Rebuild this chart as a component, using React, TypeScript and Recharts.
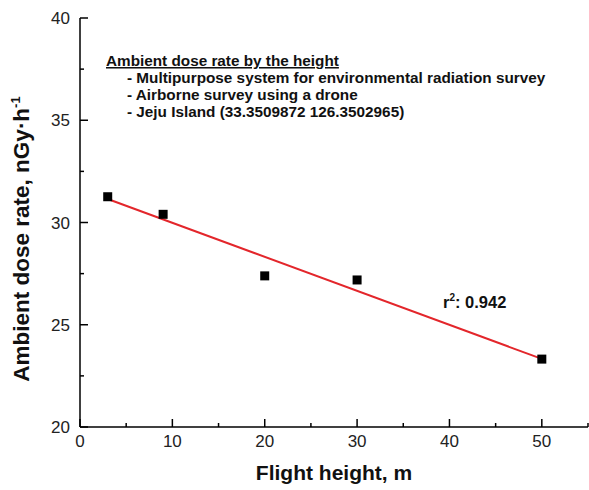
import React from 'react';
import {
  ScatterChart,
  Scatter,
  XAxis,
  YAxis,
  Customized
} from 'recharts';

// measured points: flight height (m) vs ambient dose rate (nGy/h)
const heights = [3, 9, 20, 30, 50];
const doseRates = [31.26, 30.4, 27.39, 27.19, 23.32];

// linear fit end points
const fitHeights = [3, 50];
const fitRates = [31.15, 23.33];

const xTicks = [0, 5, 10, 15, 20, 25, 30, 35, 40, 45, 50, 55];
const yTicks = [20, 22.5, 25, 27.5, 30, 32.5, 35, 37.5, 40];

const noteTitle = 'Ambient dose rate by the height';
const noteLines = [
  '- Multipurpose system for environmental radiation survey',
  '- Airborne survey using a drone',
  '- Jeju Island (33.3509872 126.3502965)'
];
const r2Value = '0.942';

const points = heights.map((h, i) => ({ h, rate: doseRates[i] }));
const fitLine = fitHeights.map((h, i) => ({ h, rate: fitRates[i] }));

const FONT = '"Liberation Sans", Arial, sans-serif';

const isMajorX = (v: number) => v % 10 === 0;
const isMajorY = (v: number) => v % 5 === 0;

const BottomTick = ({ x, y, payload }: any) => {
  const major = isMajorX(payload.value);
  return (
    <g>
      <line x1={x} x2={x} y1={y} y2={y - (major ? 8 : 4)} stroke="#000" strokeWidth={1.5} />
      {major && payload.value <= 50 && (
        <text x={x} y={y + 20} textAnchor="middle" fontSize={17} fontFamily={FONT} fill="#222">
          {payload.value}
        </text>
      )}
    </g>
  );
};

const TopTick = ({ x, y, payload }: any) => {
  const major = isMajorX(payload.value);
  return <line x1={x} x2={x} y1={y} y2={y + (major ? 8 : 4)} stroke="#000" strokeWidth={1.5} />;
};

const LeftTick = ({ x, y, payload }: any) => {
  const major = isMajorY(payload.value);
  return (
    <g>
      <line x1={x} x2={x + (major ? 8 : 4)} y1={y} y2={y} stroke="#000" strokeWidth={1.5} />
      {major && (
        <text x={x - 10} y={y + 6} textAnchor="end" fontSize={17} fontFamily={FONT} fill="#222">
          {payload.value}
        </text>
      )}
    </g>
  );
};

const RightTick = ({ x, y, payload }: any) => {
  const major = isMajorY(payload.value);
  return <line x1={x} x2={x - (major ? 8 : 4)} y1={y} y2={y} stroke="#000" strokeWidth={1.5} />;
};

const Square = ({ cx, cy }: any) => (
  <rect x={cx - 4.5} y={cy - 4.5} width={9} height={9} fill="#000" />
);

const Annotations = () => (
  <g fontFamily={FONT} fontWeight="bold" fill="#111">
    <text x={106} y={66} fontSize={15.3} textDecoration="underline">
      {noteTitle}
    </text>
    {noteLines.map((t, i) => (
      <text key={i} x={127} y={83 + i * 17} fontSize={15.3}>
        {t}
      </text>
    ))}
    <text x={443} y={308} fontSize={16.5}>
      r
      <tspan fontSize={10} dy={-7}>2</tspan>
      <tspan dy={7}>: {r2Value}</tspan>
    </text>
    <text x={334} y={480} fontSize={21} textAnchor="middle">
      Flight height, m
    </text>
    <text x={29} y={239} fontSize={22.5} textAnchor="middle" transform="rotate(-90 29 239)">
      Ambient dose rate, nGy·h
      <tspan fontSize={13} dy={-9}>-1</tspan>
    </text>
  </g>
);

export default function App() {
  return (
    <div style={{ position: 'absolute', left: 0, top: 0, background: '#fff' }}>
      <ScatterChart
        width={589}
        height={490}
        margin={{ top: 18, right: 1, bottom: 0, left: 0 }}
      >
        <XAxis
          xAxisId="bottom"
          type="number"
          dataKey="h"
          domain={[0, 55]}
          ticks={xTicks}
          interval={0}
          height={63}
          tickSize={0}
          tickMargin={0}
          tickLine={false}
          tick={<BottomTick />}
          axisLine={{ stroke: '#000', strokeWidth: 1.5 }}
        />
        <XAxis
          xAxisId="top"
          orientation="top"
          type="number"
          dataKey="h"
          domain={[0, 55]}
          ticks={xTicks}
          interval={0}
          height={0}
          tickSize={0}
          tickMargin={0}
          tickLine={false}
          tick={<TopTick />}
          axisLine={{ stroke: '#000', strokeWidth: 1.5 }}
        />
        <YAxis
          yAxisId="left"
          type="number"
          dataKey="rate"
          domain={[20, 40]}
          ticks={yTicks}
          interval={0}
          width={80}
          tickSize={0}
          tickMargin={0}
          tickLine={false}
          tick={<LeftTick />}
          axisLine={{ stroke: '#000', strokeWidth: 1.5 }}
        />
        <YAxis
          yAxisId="right"
          orientation="right"
          type="number"
          dataKey="rate"
          domain={[20, 40]}
          ticks={yTicks}
          interval={0}
          width={0}
          tickSize={0}
          tickMargin={0}
          tickLine={false}
          tick={<RightTick />}
          axisLine={{ stroke: '#000', strokeWidth: 1.5 }}
        />
        <Scatter
          xAxisId="bottom"
          yAxisId="left"
          data={fitLine}
          line={{ stroke: '#e3262b', strokeWidth: 2 }}
          shape={() => <g />}
          isAnimationActive={false}
        />
        <Scatter
          xAxisId="bottom"
          yAxisId="left"
          data={points}
          shape={<Square />}
          isAnimationActive={false}
        />
        <Customized component={<Annotations />} />
      </ScatterChart>
    </div>
  );
}
